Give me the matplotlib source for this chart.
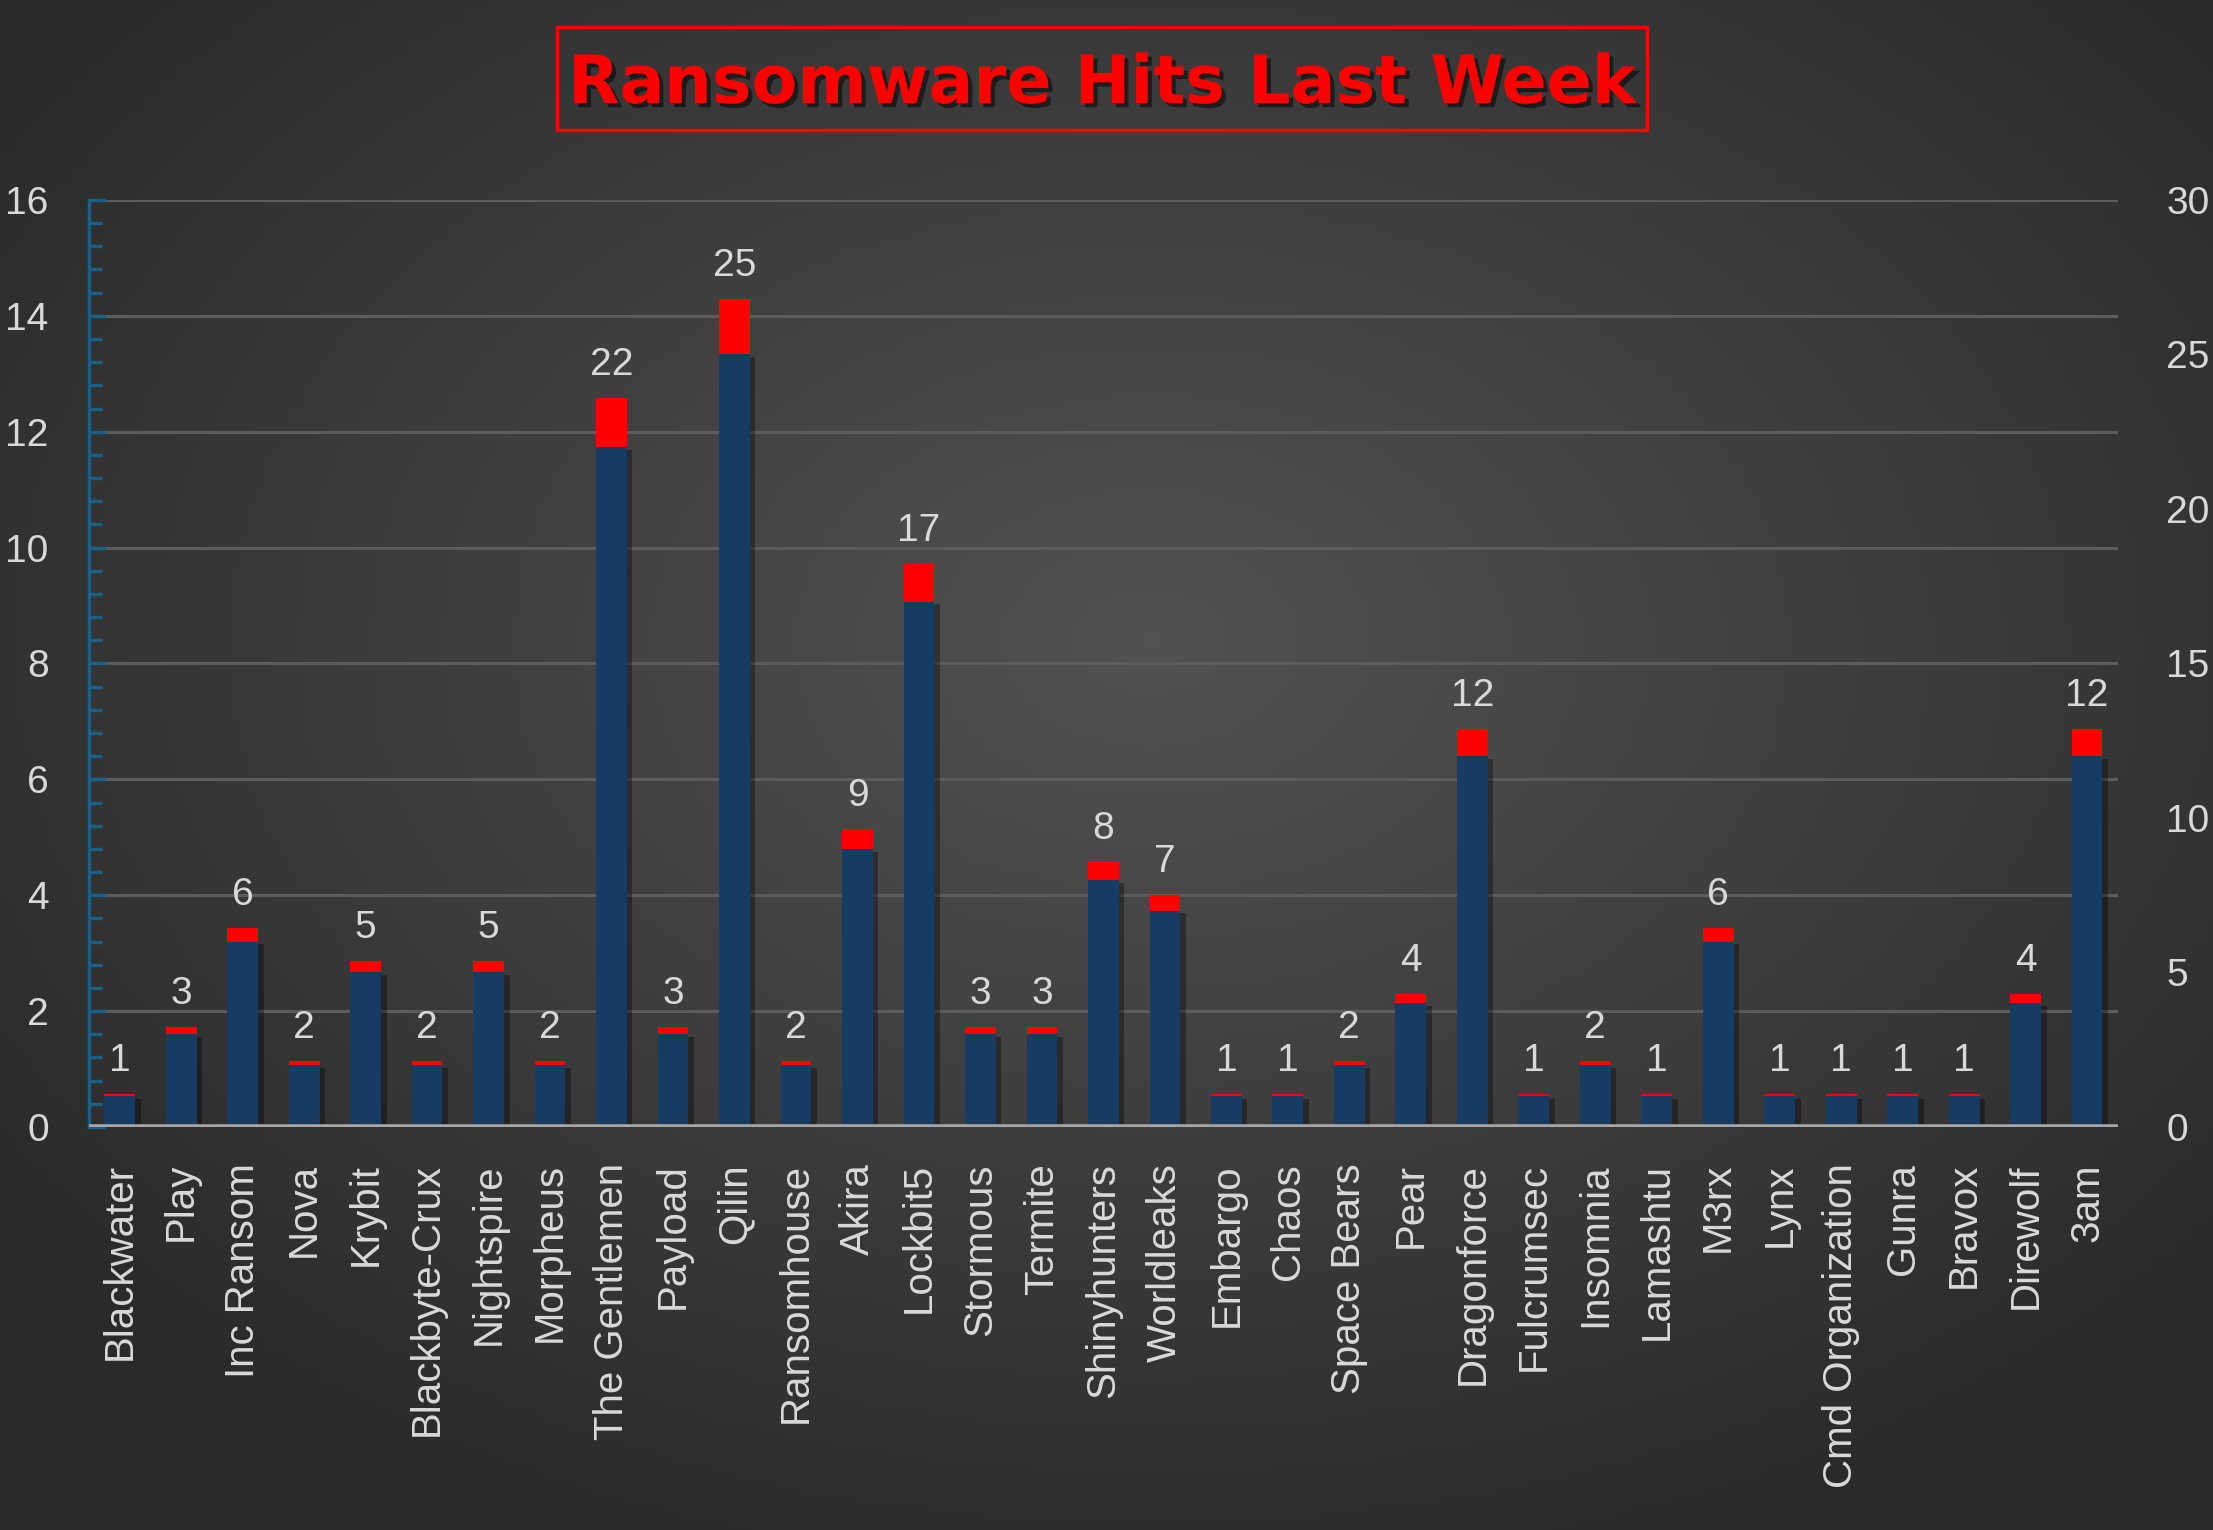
import numpy as np
import matplotlib.pyplot as plt
import matplotlib.patheffects as pe
from matplotlib.colors import LinearSegmentedColormap
from matplotlib.patches import Rectangle
from matplotlib.ticker import MultipleLocator

plt.rcParams['font.family'] = ['Liberation Sans', 'DejaVu Sans']

groups = ['Blackwater', 'Play', 'Inc Ransom', 'Nova', 'Krybit', 'Blackbyte-Crux',
          'Nightspire', 'Morpheus', 'The Gentlemen', 'Payload', 'Qilin', 'Ransomhouse',
          'Akira', 'Lockbit5', 'Stormous', 'Termite', 'Shinyhunters', 'Worldleaks',
          'Embargo', 'Chaos', 'Space Bears', 'Pear', 'Dragonforce', 'Fulcrumsec',
          'Insomnia', 'Lamashtu', 'M3rx', 'Lynx', 'Cmd Organization', 'Gunra',
          'Bravox', 'Direwolf', '3am']
hits = [1, 3, 6, 2, 5, 2, 5, 2, 22, 3, 25, 2, 9, 17, 3, 3, 8, 7, 1, 1, 2, 4, 12,
        1, 2, 1, 6, 1, 1, 1, 1, 4, 12]
# red top segment (right-axis units)
caps = [0.07, 0.22, 0.43, 0.14, 0.36, 0.14, 0.36, 0.14, 1.59, 0.22, 1.8, 0.14,
        0.65, 1.22, 0.22, 0.22, 0.58, 0.5, 0.07, 0.07, 0.14, 0.29, 0.87,
        0.07, 0.14, 0.07, 0.43, 0.07, 0.07, 0.07, 0.07, 0.29, 0.87]

txt = '#d9d9d9'
navy = '#173c64'
axis_blue = '#1b5f87'
fs = 28

fig = plt.figure(figsize=(22.13, 15.30), dpi=100)

# dark radial background
bg = fig.add_axes([0, 0, 1, 1], zorder=-10)
yy, xx = np.mgrid[0:1:300j, 0:1:400j]
r = np.sqrt(((xx - 0.52) / 0.8) ** 2 + ((yy - 0.42) / 0.8) ** 2)
shade = np.clip(1 - r, 0, 1)
cm = LinearSegmentedColormap.from_list('bg', ['#2a2a2a', '#525252'])
bg.imshow(shade, cmap=cm, extent=[0, 1, 0, 1], aspect='auto', vmin=0.2, vmax=1)
bg.axis('off')

ax = fig.add_axes([0.0402, 0.2634, 0.9168, 0.6059])
ax.set_facecolor('none')
ax.set_xlim(-0.5, len(groups) - 0.5)
ax.set_ylim(0, 16)
ax.yaxis.set_major_locator(MultipleLocator(2))
ax.yaxis.set_minor_locator(MultipleLocator(0.4))
ax.grid(axis='y', which='major', color='#5c5c5c', lw=2.2)
ax.set_axisbelow(True)
for s in ['top', 'right', 'bottom']:
    ax.spines[s].set_visible(False)
ax.spines['left'].set_color(axis_blue)
ax.spines['left'].set_linewidth(2.5)
ax.tick_params(axis='y', which='major', direction='in', length=12, width=2.5,
               color=axis_blue, labelsize=fs, labelcolor=txt, pad=29)
ax.tick_params(axis='y', which='minor', direction='in', length=9, width=2.5,
               color=axis_blue)
ax.set_xticks(range(len(groups)))
ax.set_xticklabels(groups, rotation=90, fontsize=fs + 1, color=txt)
ax.tick_params(axis='x', length=0, pad=26)

ax2 = ax.twinx()
ax2.set_ylim(0, 30)
ax2.set_yticks(range(0, 31, 5))
ax2.tick_params(axis='y', length=0, pad=35, labelsize=fs, labelcolor=txt)
for s in ax2.spines.values():
    s.set_visible(False)

x = np.arange(len(groups))
shadow = [pe.SimplePatchShadow(offset=(4, -2), shadow_rgbFace='black', alpha=0.35),
          pe.Normal()]
ax2.bar(x, hits, width=0.5, color=navy, path_effects=shadow, zorder=2)
ax2.bar(x, caps, bottom=hits, width=0.5, color='#ff0000', zorder=2)
ax2.axhline(0, color='#a6a6a6', lw=4, zorder=3)

for i, (v, c) in enumerate(zip(hits, caps)):
    ax2.annotate(str(v), (i, v + c), xytext=(0, 11), textcoords='offset points',
                 ha='center', va='bottom', fontsize=fs, color=txt)

fig.text(0.498, 1 - 84 / 1530, 'Ransomware Hits Last Week', ha='center', va='center',
         fontsize=48, fontweight='bold', color='#ff0000', family='DejaVu Sans',
         path_effects=[pe.SimplePatchShadow(offset=(3, -3), shadow_rgbFace='black', alpha=0.5),
                       pe.Normal()])
fig.patches.append(Rectangle((557 / 2213, 1 - 130 / 1530), 1090 / 2213, 103 / 1530,
                             fill=False, edgecolor='#ff0000', lw=2.5,
                             transform=fig.transFigure))

fig.savefig('out.png', dpi=100)
